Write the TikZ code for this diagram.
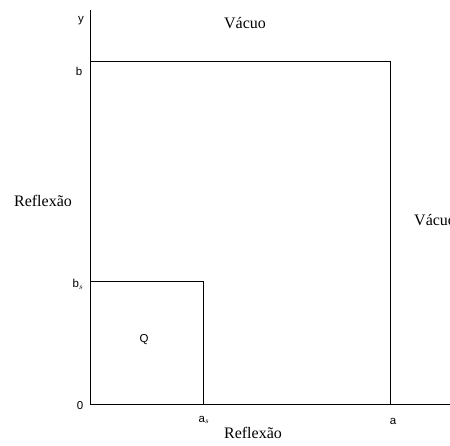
\documentclass[tikz,border=0pt]{standalone}
\usepackage{fontspec}
\setmainfont{Liberation Serif}
\setsansfont{Liberation Sans}
\usetikzlibrary{positioning}

\begin{document}
\begin{tikzpicture}[
  x=1pt, y=-1pt,
  axis/.style={line width=1pt},
  edge/.style={line width=0.8pt},
  tick/.style={font=\sffamily\fontsize{11.5}{12}\selectfont, inner sep=1pt},
  side/.style={font=\fontsize{16}{18}\selectfont, inner sep=1pt},
]
\useasboundingbox (0,0) rectangle (450,446);
% axes
\coordinate (O) at (90,404);
\coordinate (ytop) at (90,10);
\coordinate (xend) at (450,404);
\draw[axis] (ytop) -- (O) -- (xend);
% region boxes
\coordinate (big) at (390,61);
\coordinate (small) at (203,281);
\draw[edge] (O) rectangle (big);
\draw[edge] (O) rectangle (small);
% tick labels
\node[tick] (ylab) at (81,21) {y};
\node[tick] (blab) at (79,71) {b};
\node[tick] (bslab) at (78,284) {b$_s$};
\node[tick] (olab) at (80,406) {0};
\node[tick] (aslab) at (204,420) {a$_s$};
\node[tick] (alab) at (393,421) {a};
\node[tick] (qlab) at (144,340) {Q};
% boundary conditions
\node[side] (top) at (245,23) {Vácuo};
\node[side, anchor=west] (right) at (413,220) {Vácuo};
\node[side] (left) at (43,201) {Reflexão};
\node[side] (bottom) at (253,433) {Reflexão};
\end{tikzpicture}
\end{document}
